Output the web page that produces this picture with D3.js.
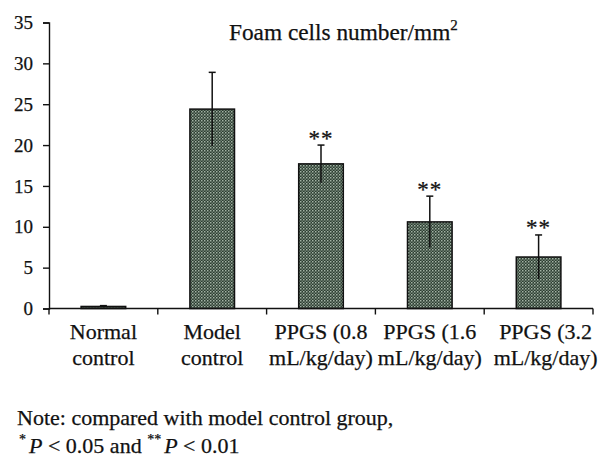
<!DOCTYPE html>
<html>
<head>
<meta charset="utf-8">
<script src="https://cdn.jsdelivr.net/npm/d3@7"></script>
<style>
  html, body { margin: 0; padding: 0; background: #fff; }
  svg { display: block; }
  text { font-family: "Liberation Serif", "DejaVu Serif", serif; fill: #111; stroke: #111; stroke-width: 0.25px; }
</style>
</head>
<body>
<svg id="chart" width="614" height="468"></svg>
<script>
// ---- data ----
const categories = ["Normal|control", "Model|control", "PPGS (0.8|mL/kg/day)", "PPGS (1.6|mL/kg/day)", "PPGS (3.2|mL/kg/day)"];
const values = [0.25, 24.4, 17.7, 10.6, 6.3];
const errors = [0.1, 4.5, 2.3, 3.15, 2.7];
const significance = ["", "", "**", "**", "**"];
const yTicks = [0, 5, 10, 15, 20, 25, 30, 35];
const title = "Foam cells number/mm";
const noteLine1 = "Note: compared with model control group,";

// ---- layout ----
const svg = d3.select("#chart");
const margin = { left: 49, right: 21, top: 22.5, bottom: 159.5 };
const W = 614, H = 468;

const x = d3.scaleBand().domain(categories).range([margin.left, W - margin.right]).padding(0);
const y = d3.scaleLinear().domain([0, 35]).range([H - margin.bottom, margin.top]);
const barW = x.bandwidth() * 0.41;

// pattern fill
const defs = svg.append("defs");
const pat = defs.append("pattern").attr("id", "dots").attr("patternUnits", "userSpaceOnUse")
  .attr("width", 3).attr("height", 3);
pat.append("rect").attr("width", 3).attr("height", 3).attr("fill", "#2c3d31");
pat.append("rect").attr("x", 0).attr("y", 0).attr("width", 1.5).attr("height", 1.5).attr("fill", "#a3b3a5");
pat.append("rect").attr("x", 1.5).attr("y", 1.5).attr("width", 1.5).attr("height", 1.5).attr("fill", "#6f8072");

// y axis
const yAxis = d3.axisLeft(y).tickValues(yTicks).tickSize(6).tickPadding(10).tickFormat(d3.format("d"));
const gy = svg.append("g").attr("transform", `translate(${margin.left},0)`).call(yAxis);
gy.select(".domain").attr("stroke", "#111").attr("stroke-width", 1.4);
gy.selectAll(".tick line").attr("stroke", "#111").attr("stroke-width", 1.4);
gy.selectAll(".tick text").style("font-size", "19px").style("font-family", "Liberation Serif");

// bars
svg.append("g").selectAll("rect").data(categories).join("rect")
  .attr("x", d => x(d) + (x.bandwidth() - barW) / 2)
  .attr("width", barW)
  .attr("y", (d, i) => y(values[i]))
  .attr("height", (d, i) => y(0) - y(values[i]))
  .attr("fill", "url(#dots)")
  .attr("stroke", "#111")
  .attr("stroke-width", 1.5);

// error bars
const eg = svg.append("g").attr("stroke", "#111").attr("stroke-width", 1.5);
categories.forEach((c, i) => {
  const cx = x(c) + x.bandwidth() / 2;
  eg.append("line").attr("x1", cx).attr("x2", cx).attr("y1", y(values[i] - errors[i])).attr("y2", y(values[i] + errors[i]));
  eg.append("line").attr("x1", cx - 3.5).attr("x2", cx + 3.5).attr("y1", y(values[i] + errors[i])).attr("y2", y(values[i] + errors[i]));
});

// significance marks
svg.append("g").selectAll("text").data(categories).join("text")
  .attr("x", d => x(d) + x.bandwidth() / 2)
  .attr("y", (d, i) => y(values[i] + errors[i]) + 0.5)
  .attr("text-anchor", "middle")
  .style("font-size", "23px")
  .style("letter-spacing", "1px")
  .text((d, i) => significance[i]);

// x axis
const gx = svg.append("g").attr("transform", `translate(0,${y(0)})`);
gx.append("line").attr("x1", margin.left).attr("x2", W - margin.right).attr("stroke", "#111").attr("stroke-width", 1.4);
const boundaries = categories.map(c => x(c)).concat([x(categories[categories.length - 1]) + x.bandwidth()]);
gx.selectAll("line.tk").data(boundaries).join("line").attr("class", "tk")
  .attr("x1", d => d).attr("x2", d => d).attr("y1", 0).attr("y2", 6)
  .attr("stroke", "#111").attr("stroke-width", 1.4);
const lab = gx.selectAll("text.lab").data(categories).join("text").attr("class", "lab")
  .attr("x", d => x(d) + x.bandwidth() / 2)
  .attr("text-anchor", "middle")
  .style("font-size", "22px");
lab.each(function(d, i) {
  const parts = d.split("|");
  const cx = x(d) + x.bandwidth() / 2 + (i === categories.length - 1 ? 7 : 0);
  d3.select(this).selectAll("tspan").data(parts).join("tspan")
    .attr("x", cx)
    .attr("y", (p, j) => 30 + j * 26)
    .text(p => p);
});

// title
const t = svg.append("text").attr("x", 229).attr("y", 40).style("font-size", "23.3px");
t.append("tspan").text(title);
t.append("tspan").attr("dy", -10).style("font-size", "15px").text("2");

// note
svg.append("text").attr("x", 17).attr("y", 425).style("font-size", "22px").text(noteLine1);
const n2 = svg.append("text").attr("x", 19).attr("y", 453).style("font-size", "22px");
n2.append("tspan").attr("dy", -9).style("font-size", "14px").text("*");
n2.append("tspan").attr("dy", 9).attr("dx", 3).style("font-style", "italic").text("P");
n2.append("tspan").text(" < 0.05 and ");
n2.append("tspan").attr("dy", -9).style("font-size", "14px").text("**");
n2.append("tspan").attr("dy", 9).attr("dx", 3).style("font-style", "italic").text("P");
n2.append("tspan").text(" < 0.01");
</script>
</body>
</html>
